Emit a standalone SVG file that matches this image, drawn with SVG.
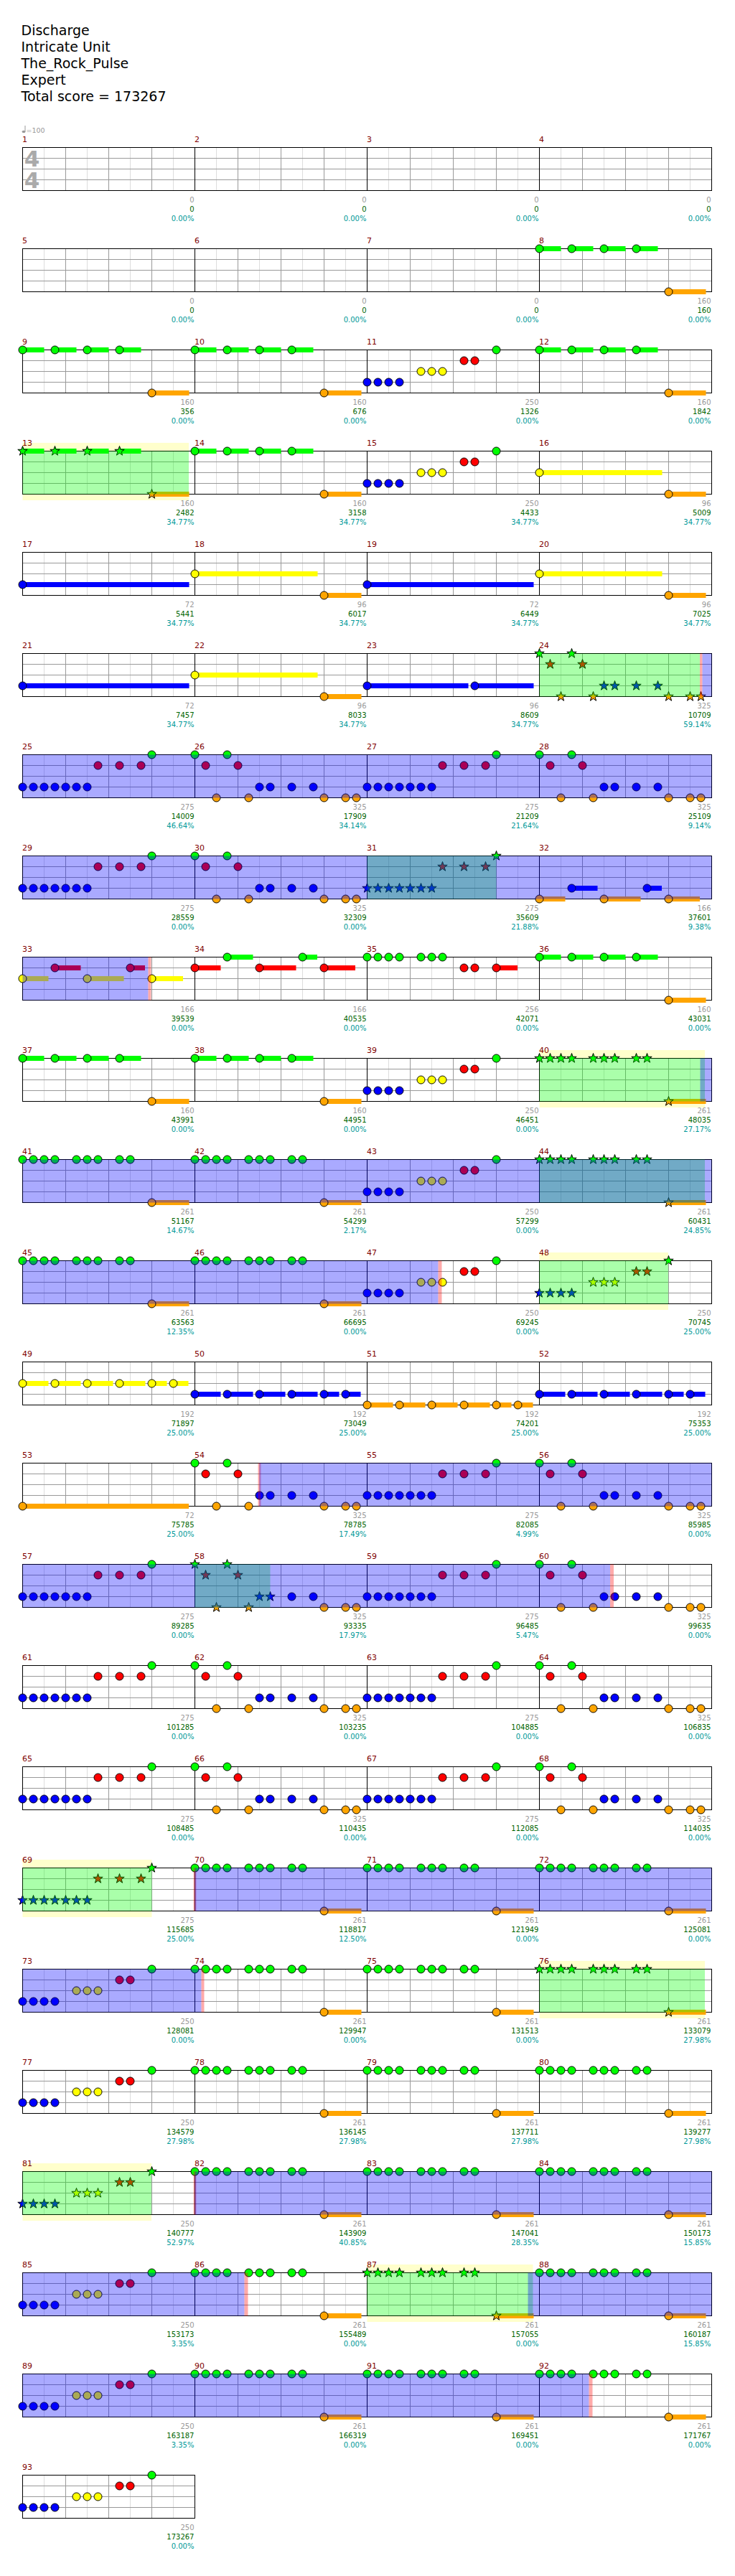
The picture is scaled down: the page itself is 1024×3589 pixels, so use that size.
<svg xmlns="http://www.w3.org/2000/svg" width="1024" height="3589" viewBox="0 0 1024 3589">
<style>
.n{font:11px "DejaVu Sans",sans-serif;fill:#800000}
.c,.s,.p{font:10px "DejaVu Sans",sans-serif;text-anchor:end}
.c{fill:#999}.s{fill:#006400}.p{fill:#009999}
.h{font:19px "DejaVu Sans",sans-serif;fill:#000}
.bl{fill:#00f;fill-opacity:.333}
.gr{fill:#0f0;fill-opacity:.333}
.yl{fill:#ffffcc}
.pk{fill:#f00;fill-opacity:.333}
</style>
<defs>
<g id="M">
<rect width="240" height="60" fill="#fff"/>
<path d="M30,0V60M90,0V60M150,0V60M210,0V60" stroke="#ddd"/>
<path d="M60,0V60M120,0V60M180,0V60M0,15H240M0,30H240M0,45H240" stroke="#999"/>
<rect width="240" height="60" fill="none" stroke="#000"/>
</g>
<g id="R"><use href="#M"/><use href="#M" x="240"/><use href="#M" x="480"/><use href="#M" x="720"/></g>
<circle id="g" r="5.5" fill="#0f0" stroke="#000"/>
<circle id="r" cy="15" r="5.5" fill="#f00" stroke="#000"/>
<circle id="y" cy="30" r="5.5" fill="#ff0" stroke="#000"/>
<circle id="b" cy="45" r="5.5" fill="#00f" stroke="#000"/>
<circle id="o" cy="60" r="5.5" fill="#ffa500" stroke="#000"/>
<path id="st" d="M0,-7L1.6,-2.3L6.7,-2.2L2.7,.9L4.1,5.7L0,2.8L-4.1,5.7L-2.7,.9L-6.7,-2.2L-1.6,-2.3Z" stroke="#000"/>
<use id="Sg" href="#st" fill="#0f0"/>
<use id="Sr" href="#st" y="15" fill="#f00"/>
<use id="Sy" href="#st" y="30" fill="#ff0"/>
<use id="Sb" href="#st" y="45" fill="#00f"/>
<use id="So" href="#st" y="60" fill="#ffa500"/>
<path id="gs" d="M0,-3.5h30v7h-30zM45,-3.5h30v7h-30zM90,-3.5h30v7h-30zM135,-3.5h30v7h-30z" fill="#0f0"/>
<path id="os" d="M180,56.5h52v7h-52z" fill="#ffa500"/>
<g id="P1"><use href="#gs"/><use href="#os"/><use href="#g"/><use href="#g" x="45"/><use href="#g" x="90"/><use href="#g" x="135"/><use href="#o" x="180"/></g>
<g id="S1"><use href="#gs"/><use href="#os"/><use href="#Sg"/><use href="#Sg" x="45"/><use href="#Sg" x="90"/><use href="#Sg" x="135"/><use href="#So" x="180"/></g>
<g id="P2"><use href="#b"/><use href="#b" x="15"/><use href="#b" x="30"/><use href="#b" x="45"/><use href="#y" x="75"/><use href="#y" x="90"/><use href="#y" x="105"/><use href="#r" x="135"/><use href="#r" x="150"/><use href="#g" x="180"/></g>
<g id="S2"><use href="#Sb"/><use href="#Sb" x="15"/><use href="#Sb" x="30"/><use href="#Sb" x="45"/><use href="#Sy" x="75"/><use href="#Sy" x="90"/><use href="#Sy" x="105"/><use href="#Sr" x="135"/><use href="#Sr" x="150"/><use href="#Sg" x="180"/></g>
<g id="P3"><use href="#b"/><use href="#b" x="15"/><use href="#b" x="30"/><use href="#b" x="45"/><use href="#b" x="60"/><use href="#b" x="75"/><use href="#b" x="90"/><use href="#r" x="105"/><use href="#r" x="135"/><use href="#r" x="165"/><use href="#g" x="180"/></g>
<g id="S3"><use href="#Sb"/><use href="#Sb" x="15"/><use href="#Sb" x="30"/><use href="#Sb" x="45"/><use href="#Sb" x="60"/><use href="#Sb" x="75"/><use href="#Sb" x="90"/><use href="#Sr" x="105"/><use href="#Sr" x="135"/><use href="#Sr" x="165"/><use href="#Sg" x="180"/></g>
<g id="P4"><use href="#g"/><use href="#r" x="15"/><use href="#o" x="30"/><use href="#g" x="45"/><use href="#r" x="60"/><use href="#o" x="75"/><use href="#b" x="90"/><use href="#b" x="105"/><use href="#b" x="135"/><use href="#b" x="165"/><use href="#o" x="180"/><use href="#o" x="210"/><use href="#o" x="225"/></g>
<g id="S4"><use href="#Sg"/><use href="#Sr" x="15"/><use href="#So" x="30"/><use href="#Sg" x="45"/><use href="#Sr" x="60"/><use href="#So" x="75"/><use href="#Sb" x="90"/><use href="#Sb" x="105"/><use href="#Sb" x="135"/><use href="#Sb" x="165"/><use href="#So" x="180"/><use href="#So" x="210"/><use href="#So" x="225"/></g>
<g id="S4h"><use href="#Sg"/><use href="#Sr" x="15"/><use href="#So" x="30"/><use href="#Sg" x="45"/><use href="#Sr" x="60"/><use href="#So" x="75"/><use href="#Sb" x="90"/><use href="#Sb" x="105"/><use href="#b" x="135"/><use href="#b" x="165"/><use href="#o" x="180"/><use href="#o" x="210"/><use href="#o" x="225"/></g>
<g id="P5"><use href="#os"/><use href="#g"/><use href="#g" x="15"/><use href="#g" x="30"/><use href="#g" x="45"/><use href="#g" x="75"/><use href="#g" x="90"/><use href="#g" x="105"/><use href="#g" x="135"/><use href="#g" x="150"/><use href="#o" x="180"/></g>
<g id="S5"><use href="#os"/><use href="#Sg"/><use href="#Sg" x="15"/><use href="#Sg" x="30"/><use href="#Sg" x="45"/><use href="#Sg" x="75"/><use href="#Sg" x="90"/><use href="#Sg" x="105"/><use href="#Sg" x="135"/><use href="#Sg" x="150"/><use href="#So" x="180"/></g>
<g id="P6"><path d="M0,26.5h171v7h-171z" fill="#ff0"/><use href="#os"/><use href="#y"/><use href="#o" x="180"/></g>
<g id="P7"><path d="M0,41.5h232v7h-232z" fill="#00f"/><use href="#b"/></g>
<g id="Q"><path d="M0,-3.5h36v7h-36zM45,-3.5h36v7h-36zM90,-3.5h36v7h-36zM135,-3.5h36v7h-36zM180,-3.5h21v7h-21zM210,-3.5h21v7h-21z"/><g stroke="#000"><circle r="5.5"/><circle cx="45" r="5.5"/><circle cx="90" r="5.5"/><circle cx="135" r="5.5"/><circle cx="180" r="5.5"/><circle cx="210" r="5.5"/></g></g>
</defs>
<rect width="1024" height="3589" fill="#fff"/>
<g id="header">
<text class="h" x="29.5" y="49">Discharge</text>
<text class="h" x="29.5" y="72">Intricate Unit</text>
<text class="h" x="29.5" y="95">The_Rock_Pulse</text>
<text class="h" x="29.5" y="118">Expert</text>
<text class="h" x="29.5" y="141">Total score = 173267</text>
<ellipse cx="33" cy="183.5" rx="2.4" ry="1.8" fill="#999"/>
<path d="M35,183.5V175" stroke="#999"/>
<text x="36.5" y="184.5" style="font:9.5px 'DejaVu Sans',sans-serif;fill:#999">=100</text>
</g>

<g id="row1" transform="translate(31.5,205.5)">
<use href="#R"/>
<text x="13" y="26.5" text-anchor="middle" style="font:bold 31px 'DejaVu Sans',sans-serif;fill:#aaa">4</text>
<text x="13" y="56.5" text-anchor="middle" style="font:bold 31px 'DejaVu Sans',sans-serif;fill:#aaa">4</text>
<text class="n" x="-.5" y="-8">1</text><text class="n" x="239.5" y="-8">2</text><text class="n" x="479.5" y="-8">3</text><text class="n" x="719.5" y="-8">4</text>
<text class="c" x="239" y="76">0</text><text class="s" x="239" y="89.5">0</text><text class="p" x="239" y="102">0.00%</text>
<text class="c" x="479" y="76">0</text><text class="s" x="479" y="89.5">0</text><text class="p" x="479" y="102">0.00%</text>
<text class="c" x="719" y="76">0</text><text class="s" x="719" y="89.5">0</text><text class="p" x="719" y="102">0.00%</text>
<text class="c" x="959" y="76">0</text><text class="s" x="959" y="89.5">0</text><text class="p" x="959" y="102">0.00%</text>
</g>

<g id="row2" transform="translate(31.5,346.5)">
<use href="#R"/>
<use href="#P1" x="720"/>
<text class="n" x="-.5" y="-8">5</text><text class="n" x="239.5" y="-8">6</text><text class="n" x="479.5" y="-8">7</text><text class="n" x="719.5" y="-8">8</text>
<text class="c" x="239" y="76">0</text><text class="s" x="239" y="89.5">0</text><text class="p" x="239" y="102">0.00%</text>
<text class="c" x="479" y="76">0</text><text class="s" x="479" y="89.5">0</text><text class="p" x="479" y="102">0.00%</text>
<text class="c" x="719" y="76">0</text><text class="s" x="719" y="89.5">0</text><text class="p" x="719" y="102">0.00%</text>
<text class="c" x="959" y="76">160</text><text class="s" x="959" y="89.5">160</text><text class="p" x="959" y="102">0.00%</text>
</g>

<g id="row3" transform="translate(31.5,487.5)">
<use href="#R"/>
<use href="#P1"/><use href="#P1" x="240"/><use href="#P2" x="480"/><use href="#P1" x="720"/>
<text class="n" x="-.5" y="-8">9</text><text class="n" x="239.5" y="-8">10</text><text class="n" x="479.5" y="-8">11</text><text class="n" x="719.5" y="-8">12</text>
<text class="c" x="239" y="76">160</text><text class="s" x="239" y="89.5">356</text><text class="p" x="239" y="102">0.00%</text>
<text class="c" x="479" y="76">160</text><text class="s" x="479" y="89.5">676</text><text class="p" x="479" y="102">0.00%</text>
<text class="c" x="719" y="76">250</text><text class="s" x="719" y="89.5">1326</text><text class="p" x="719" y="102">0.00%</text>
<text class="c" x="959" y="76">160</text><text class="s" x="959" y="89.5">1842</text><text class="p" x="959" y="102">0.00%</text>
</g>

<g id="row4" transform="translate(31.5,628.5)">
<rect class="yl" x="0" y="-11.5" width="231.5" height="80"/>
<use href="#R"/>
<use href="#S1"/><use href="#P1" x="240"/><use href="#P2" x="480"/><use href="#P6" x="720"/>
<rect class="gr" x="0" y="0" width="231.5" height="60"/>
<text class="n" x="-.5" y="-8">13</text><text class="n" x="239.5" y="-8">14</text><text class="n" x="479.5" y="-8">15</text><text class="n" x="719.5" y="-8">16</text>
<text class="c" x="239" y="76">160</text><text class="s" x="239" y="89.5">2482</text><text class="p" x="239" y="102">34.77%</text>
<text class="c" x="479" y="76">160</text><text class="s" x="479" y="89.5">3158</text><text class="p" x="479" y="102">34.77%</text>
<text class="c" x="719" y="76">250</text><text class="s" x="719" y="89.5">4433</text><text class="p" x="719" y="102">34.77%</text>
<text class="c" x="959" y="76">96</text><text class="s" x="959" y="89.5">5009</text><text class="p" x="959" y="102">34.77%</text>
</g>

<g id="row5" transform="translate(31.5,769.5)">
<use href="#R"/>
<use href="#P7"/><use href="#P6" x="240"/><use href="#P7" x="480"/><use href="#P6" x="720"/>
<text class="n" x="-.5" y="-8">17</text><text class="n" x="239.5" y="-8">18</text><text class="n" x="479.5" y="-8">19</text><text class="n" x="719.5" y="-8">20</text>
<text class="c" x="239" y="76">72</text><text class="s" x="239" y="89.5">5441</text><text class="p" x="239" y="102">34.77%</text>
<text class="c" x="479" y="76">96</text><text class="s" x="479" y="89.5">6017</text><text class="p" x="479" y="102">34.77%</text>
<text class="c" x="719" y="76">72</text><text class="s" x="719" y="89.5">6449</text><text class="p" x="719" y="102">34.77%</text>
<text class="c" x="959" y="76">96</text><text class="s" x="959" y="89.5">7025</text><text class="p" x="959" y="102">34.77%</text>
</g>

<g id="row6" transform="translate(31.5,910.5)">
<use href="#R"/>
<use href="#P7"/><use href="#P6" x="240"/>
<path d="M480,41.5h141v7h-141zM630,41.5h82v7h-82z" fill="#00f"/><use href="#b" x="480"/><use href="#b" x="630"/>
<use href="#S4" x="720"/>
<rect class="gr" x="720" y="0" width="223.5" height="60"/>
<rect class="pk" x="943.5" y="0" width="3.5" height="60"/>
<rect class="bl" x="947" y="0" width="13" height="60"/>
<text class="n" x="-.5" y="-8">21</text><text class="n" x="239.5" y="-8">22</text><text class="n" x="479.5" y="-8">23</text><text class="n" x="719.5" y="-8">24</text>
<text class="c" x="239" y="76">72</text><text class="s" x="239" y="89.5">7457</text><text class="p" x="239" y="102">34.77%</text>
<text class="c" x="479" y="76">96</text><text class="s" x="479" y="89.5">8033</text><text class="p" x="479" y="102">34.77%</text>
<text class="c" x="719" y="76">96</text><text class="s" x="719" y="89.5">8609</text><text class="p" x="719" y="102">34.77%</text>
<text class="c" x="959" y="76">325</text><text class="s" x="959" y="89.5">10709</text><text class="p" x="959" y="102">59.14%</text>
</g>

<g id="row7" transform="translate(31.5,1051.5)">
<use href="#R"/>
<use href="#P3"/><use href="#P4" x="240"/><use href="#P3" x="480"/><use href="#P4" x="720"/>
<rect class="bl" x="0" y="0" width="960" height="60"/>
<text class="n" x="-.5" y="-8">25</text><text class="n" x="239.5" y="-8">26</text><text class="n" x="479.5" y="-8">27</text><text class="n" x="719.5" y="-8">28</text>
<text class="c" x="239" y="76">275</text><text class="s" x="239" y="89.5">14009</text><text class="p" x="239" y="102">46.64%</text>
<text class="c" x="479" y="76">325</text><text class="s" x="479" y="89.5">17909</text><text class="p" x="479" y="102">34.14%</text>
<text class="c" x="719" y="76">275</text><text class="s" x="719" y="89.5">21209</text><text class="p" x="719" y="102">21.64%</text>
<text class="c" x="959" y="76">325</text><text class="s" x="959" y="89.5">25109</text><text class="p" x="959" y="102">9.14%</text>
</g>

<g id="row8" transform="translate(31.5,1192.5)">
<use href="#R"/>
<use href="#P3"/><use href="#P4" x="240"/><use href="#S3" x="480"/>
<path d="M720,56.5h36v7h-36zM810,56.5h51v7h-51zM900,56.5h43.5v7h-43.5z" fill="#ffa500"/>
<path d="M765,41.5h36v7h-36zM870,41.5h20.5v7h-20.5z" fill="#00f"/>
<use href="#o" x="720"/><use href="#b" x="765"/><use href="#o" x="810"/><use href="#b" x="870"/><use href="#o" x="900"/>
<rect class="gr" x="480" y="0" width="180" height="60"/>
<rect class="bl" x="0" y="0" width="960" height="60"/>
<text class="n" x="-.5" y="-8">29</text><text class="n" x="239.5" y="-8">30</text><text class="n" x="479.5" y="-8">31</text><text class="n" x="719.5" y="-8">32</text>
<text class="c" x="239" y="76">275</text><text class="s" x="239" y="89.5">28559</text><text class="p" x="239" y="102">0.00%</text>
<text class="c" x="479" y="76">325</text><text class="s" x="479" y="89.5">32309</text><text class="p" x="479" y="102">0.00%</text>
<text class="c" x="719" y="76">275</text><text class="s" x="719" y="89.5">35609</text><text class="p" x="719" y="102">21.88%</text>
<text class="c" x="959" y="76">166</text><text class="s" x="959" y="89.5">37601</text><text class="p" x="959" y="102">9.38%</text>
</g>

<g id="row9" transform="translate(31.5,1333.5)">
<use href="#R"/>
<path d="M0,26.5h36v7h-36zM90,26.5h51v7h-51zM180,26.5h43.5v7h-43.5z" fill="#ff0"/>
<path d="M45,11.5h36v7h-36zM150,11.5h20.5v7h-20.5z" fill="#f00"/>
<use href="#y"/><use href="#r" x="45"/><use href="#y" x="90"/><use href="#r" x="150"/><use href="#y" x="180"/>
<path d="M240,11.5h36v7h-36zM330,11.5h51v7h-51zM420,11.5h43.5v7h-43.5zM660,11.5h29.5v7h-29.5z" fill="#f00"/>
<path d="M285,-3.5h36v7h-36zM390,-3.5h20.5v7h-20.5z" fill="#0f0"/>
<use href="#r" x="240"/><use href="#g" x="285"/><use href="#r" x="330"/><use href="#g" x="390"/><use href="#r" x="420"/>
<use href="#g" x="480"/><use href="#g" x="495"/><use href="#g" x="510"/><use href="#g" x="525"/><use href="#g" x="555"/><use href="#g" x="570"/><use href="#g" x="585"/><use href="#r" x="615"/><use href="#r" x="630"/><use href="#r" x="660"/>
<use href="#P1" x="720"/>
<rect class="bl" x="0" y="0" width="175" height="60"/>
<rect class="pk" x="175" y="0" width="4" height="60"/>
<text class="n" x="-.5" y="-8">33</text><text class="n" x="239.5" y="-8">34</text><text class="n" x="479.5" y="-8">35</text><text class="n" x="719.5" y="-8">36</text>
<text class="c" x="239" y="76">166</text><text class="s" x="239" y="89.5">39539</text><text class="p" x="239" y="102">0.00%</text>
<text class="c" x="479" y="76">166</text><text class="s" x="479" y="89.5">40535</text><text class="p" x="479" y="102">0.00%</text>
<text class="c" x="719" y="76">256</text><text class="s" x="719" y="89.5">42071</text><text class="p" x="719" y="102">0.00%</text>
<text class="c" x="959" y="76">160</text><text class="s" x="959" y="89.5">43031</text><text class="p" x="959" y="102">0.00%</text>
</g>

<g id="row10" transform="translate(31.5,1474.5)">
<rect class="yl" x="720" y="-11.5" width="230.5" height="80"/>
<use href="#R"/>
<use href="#P1"/><use href="#P1" x="240"/><use href="#P2" x="480"/><use href="#S5" x="720"/>
<rect class="gr" x="720" y="0" width="230.5" height="60"/>
<rect class="bl" x="944" y="0" width="16" height="60"/>
<text class="n" x="-.5" y="-8">37</text><text class="n" x="239.5" y="-8">38</text><text class="n" x="479.5" y="-8">39</text><text class="n" x="719.5" y="-8">40</text>
<text class="c" x="239" y="76">160</text><text class="s" x="239" y="89.5">43991</text><text class="p" x="239" y="102">0.00%</text>
<text class="c" x="479" y="76">160</text><text class="s" x="479" y="89.5">44951</text><text class="p" x="479" y="102">0.00%</text>
<text class="c" x="719" y="76">250</text><text class="s" x="719" y="89.5">46451</text><text class="p" x="719" y="102">0.00%</text>
<text class="c" x="959" y="76">261</text><text class="s" x="959" y="89.5">48035</text><text class="p" x="959" y="102">27.17%</text>
</g>

<g id="row11" transform="translate(31.5,1615.5)">
<use href="#R"/>
<use href="#P5"/><use href="#P5" x="240"/><use href="#P2" x="480"/><use href="#S5" x="720"/>
<rect class="gr" x="720" y="0" width="230.5" height="60"/>
<rect class="bl" x="0" y="0" width="960" height="60"/>
<text class="n" x="-.5" y="-8">41</text><text class="n" x="239.5" y="-8">42</text><text class="n" x="479.5" y="-8">43</text><text class="n" x="719.5" y="-8">44</text>
<text class="c" x="239" y="76">261</text><text class="s" x="239" y="89.5">51167</text><text class="p" x="239" y="102">14.67%</text>
<text class="c" x="479" y="76">261</text><text class="s" x="479" y="89.5">54299</text><text class="p" x="479" y="102">2.17%</text>
<text class="c" x="719" y="76">250</text><text class="s" x="719" y="89.5">57299</text><text class="p" x="719" y="102">0.00%</text>
<text class="c" x="959" y="76">261</text><text class="s" x="959" y="89.5">60431</text><text class="p" x="959" y="102">24.85%</text>
</g>

<g id="row12" transform="translate(31.5,1756.5)">
<rect class="yl" x="720" y="-11.5" width="179.5" height="80"/>
<use href="#R"/>
<use href="#P5"/><use href="#P5" x="240"/><use href="#P2" x="480"/><use href="#S2" x="720"/>
<rect class="gr" x="720" y="0" width="179.5" height="60"/>
<rect class="bl" x="0" y="0" width="579" height="60"/>
<rect class="pk" x="579" y="0" width="5" height="60"/>
<text class="n" x="-.5" y="-8">45</text><text class="n" x="239.5" y="-8">46</text><text class="n" x="479.5" y="-8">47</text><text class="n" x="719.5" y="-8">48</text>
<text class="c" x="239" y="76">261</text><text class="s" x="239" y="89.5">63563</text><text class="p" x="239" y="102">12.35%</text>
<text class="c" x="479" y="76">261</text><text class="s" x="479" y="89.5">66695</text><text class="p" x="479" y="102">0.00%</text>
<text class="c" x="719" y="76">250</text><text class="s" x="719" y="89.5">69245</text><text class="p" x="719" y="102">0.00%</text>
<text class="c" x="959" y="76">250</text><text class="s" x="959" y="89.5">70745</text><text class="p" x="959" y="102">25.00%</text>
</g>

<g id="row13" transform="translate(31.5,1897.5)">
<use href="#R"/>
<use href="#Q" y="30" fill="#ff0"/><use href="#Q" x="240" y="45" fill="#00f"/><use href="#Q" x="480" y="60" fill="#ffa500"/><use href="#Q" x="720" y="45" fill="#00f"/>
<text class="n" x="-.5" y="-8">49</text><text class="n" x="239.5" y="-8">50</text><text class="n" x="479.5" y="-8">51</text><text class="n" x="719.5" y="-8">52</text>
<text class="c" x="239" y="76">192</text><text class="s" x="239" y="89.5">71897</text><text class="p" x="239" y="102">25.00%</text>
<text class="c" x="479" y="76">192</text><text class="s" x="479" y="89.5">73049</text><text class="p" x="479" y="102">25.00%</text>
<text class="c" x="719" y="76">192</text><text class="s" x="719" y="89.5">74201</text><text class="p" x="719" y="102">25.00%</text>
<text class="c" x="959" y="76">192</text><text class="s" x="959" y="89.5">75353</text><text class="p" x="959" y="102">25.00%</text>
</g>

<g id="row14" transform="translate(31.5,2038.5)">
<use href="#R"/>
<path d="M0,56.5h231.5v7h-231.5z" fill="#ffa500"/><use href="#o"/>
<use href="#P4" x="240"/><use href="#P3" x="480"/><use href="#P4" x="720"/>
<rect class="pk" x="328" y="0" width="4" height="60"/>
<rect class="bl" x="330" y="0" width="630" height="60"/>
<text class="n" x="-.5" y="-8">53</text><text class="n" x="239.5" y="-8">54</text><text class="n" x="479.5" y="-8">55</text><text class="n" x="719.5" y="-8">56</text>
<text class="c" x="239" y="76">72</text><text class="s" x="239" y="89.5">75785</text><text class="p" x="239" y="102">25.00%</text>
<text class="c" x="479" y="76">325</text><text class="s" x="479" y="89.5">78785</text><text class="p" x="479" y="102">17.49%</text>
<text class="c" x="719" y="76">275</text><text class="s" x="719" y="89.5">82085</text><text class="p" x="719" y="102">4.99%</text>
<text class="c" x="959" y="76">325</text><text class="s" x="959" y="89.5">85985</text><text class="p" x="959" y="102">0.00%</text>
</g>

<g id="row15" transform="translate(31.5,2179.5)">
<use href="#R"/>
<use href="#P3"/><use href="#S4h" x="240"/><use href="#P3" x="480"/><use href="#P4" x="720"/>
<rect class="gr" x="240" y="0" width="105" height="60"/>
<rect class="bl" x="0" y="0" width="818.5" height="60"/>
<rect class="pk" x="818.5" y="0" width="5" height="60"/>
<text class="n" x="-.5" y="-8">57</text><text class="n" x="239.5" y="-8">58</text><text class="n" x="479.5" y="-8">59</text><text class="n" x="719.5" y="-8">60</text>
<text class="c" x="239" y="76">275</text><text class="s" x="239" y="89.5">89285</text><text class="p" x="239" y="102">0.00%</text>
<text class="c" x="479" y="76">325</text><text class="s" x="479" y="89.5">93335</text><text class="p" x="479" y="102">17.97%</text>
<text class="c" x="719" y="76">275</text><text class="s" x="719" y="89.5">96485</text><text class="p" x="719" y="102">5.47%</text>
<text class="c" x="959" y="76">325</text><text class="s" x="959" y="89.5">99635</text><text class="p" x="959" y="102">0.00%</text>
</g>

<g id="row16" transform="translate(31.5,2320.5)">
<use href="#R"/>
<use href="#P3"/><use href="#P4" x="240"/><use href="#P3" x="480"/><use href="#P4" x="720"/>
<text class="n" x="-.5" y="-8">61</text><text class="n" x="239.5" y="-8">62</text><text class="n" x="479.5" y="-8">63</text><text class="n" x="719.5" y="-8">64</text>
<text class="c" x="239" y="76">275</text><text class="s" x="239" y="89.5">101285</text><text class="p" x="239" y="102">0.00%</text>
<text class="c" x="479" y="76">325</text><text class="s" x="479" y="89.5">103235</text><text class="p" x="479" y="102">0.00%</text>
<text class="c" x="719" y="76">275</text><text class="s" x="719" y="89.5">104885</text><text class="p" x="719" y="102">0.00%</text>
<text class="c" x="959" y="76">325</text><text class="s" x="959" y="89.5">106835</text><text class="p" x="959" y="102">0.00%</text>
</g>

<g id="row17" transform="translate(31.5,2461.5)">
<use href="#R"/>
<use href="#P3"/><use href="#P4" x="240"/><use href="#P3" x="480"/><use href="#P4" x="720"/>
<text class="n" x="-.5" y="-8">65</text><text class="n" x="239.5" y="-8">66</text><text class="n" x="479.5" y="-8">67</text><text class="n" x="719.5" y="-8">68</text>
<text class="c" x="239" y="76">275</text><text class="s" x="239" y="89.5">108485</text><text class="p" x="239" y="102">0.00%</text>
<text class="c" x="479" y="76">325</text><text class="s" x="479" y="89.5">110435</text><text class="p" x="479" y="102">0.00%</text>
<text class="c" x="719" y="76">275</text><text class="s" x="719" y="89.5">112085</text><text class="p" x="719" y="102">0.00%</text>
<text class="c" x="959" y="76">325</text><text class="s" x="959" y="89.5">114035</text><text class="p" x="959" y="102">0.00%</text>
</g>

<g id="row18" transform="translate(31.5,2602.5)">
<rect class="yl" x="0" y="-11.5" width="180" height="80"/>
<use href="#R"/>
<use href="#S3"/><use href="#P5" x="240"/><use href="#P5" x="480"/><use href="#P5" x="720"/>
<rect class="gr" x="0" y="0" width="180" height="60"/>
<rect class="pk" x="238" y="0" width="4" height="60"/>
<rect class="bl" x="240" y="0" width="720" height="60"/>
<text class="n" x="-.5" y="-8">69</text><text class="n" x="239.5" y="-8">70</text><text class="n" x="479.5" y="-8">71</text><text class="n" x="719.5" y="-8">72</text>
<text class="c" x="239" y="76">275</text><text class="s" x="239" y="89.5">115685</text><text class="p" x="239" y="102">25.00%</text>
<text class="c" x="479" y="76">261</text><text class="s" x="479" y="89.5">118817</text><text class="p" x="479" y="102">12.50%</text>
<text class="c" x="719" y="76">261</text><text class="s" x="719" y="89.5">121949</text><text class="p" x="719" y="102">0.00%</text>
<text class="c" x="959" y="76">261</text><text class="s" x="959" y="89.5">125081</text><text class="p" x="959" y="102">0.00%</text>
</g>

<g id="row19" transform="translate(31.5,2743.5)">
<rect class="yl" x="720" y="-11.5" width="230.5" height="80"/>
<use href="#R"/>
<use href="#P2"/><use href="#P5" x="240"/><use href="#P5" x="480"/><use href="#S5" x="720"/>
<rect class="bl" x="0" y="0" width="249" height="60"/>
<rect class="pk" x="249" y="0" width="4" height="60"/>
<rect class="gr" x="720" y="0" width="230.5" height="60"/>
<text class="n" x="-.5" y="-8">73</text><text class="n" x="239.5" y="-8">74</text><text class="n" x="479.5" y="-8">75</text><text class="n" x="719.5" y="-8">76</text>
<text class="c" x="239" y="76">250</text><text class="s" x="239" y="89.5">128081</text><text class="p" x="239" y="102">0.00%</text>
<text class="c" x="479" y="76">261</text><text class="s" x="479" y="89.5">129947</text><text class="p" x="479" y="102">0.00%</text>
<text class="c" x="719" y="76">261</text><text class="s" x="719" y="89.5">131513</text><text class="p" x="719" y="102">0.00%</text>
<text class="c" x="959" y="76">261</text><text class="s" x="959" y="89.5">133079</text><text class="p" x="959" y="102">27.98%</text>
</g>

<g id="row20" transform="translate(31.5,2884.5)">
<use href="#R"/>
<use href="#P2"/><use href="#P5" x="240"/><use href="#P5" x="480"/><use href="#P5" x="720"/>
<text class="n" x="-.5" y="-8">77</text><text class="n" x="239.5" y="-8">78</text><text class="n" x="479.5" y="-8">79</text><text class="n" x="719.5" y="-8">80</text>
<text class="c" x="239" y="76">250</text><text class="s" x="239" y="89.5">134579</text><text class="p" x="239" y="102">27.98%</text>
<text class="c" x="479" y="76">261</text><text class="s" x="479" y="89.5">136145</text><text class="p" x="479" y="102">27.98%</text>
<text class="c" x="719" y="76">261</text><text class="s" x="719" y="89.5">137711</text><text class="p" x="719" y="102">27.98%</text>
<text class="c" x="959" y="76">261</text><text class="s" x="959" y="89.5">139277</text><text class="p" x="959" y="102">27.98%</text>
</g>

<g id="row21" transform="translate(31.5,3025.5)">
<rect class="yl" x="0" y="-11.5" width="179.5" height="80"/>
<use href="#R"/>
<use href="#S2"/><use href="#P5" x="240"/><use href="#P5" x="480"/><use href="#P5" x="720"/>
<rect class="gr" x="0" y="0" width="179.5" height="60"/>
<rect class="pk" x="238" y="0" width="4" height="60"/>
<rect class="bl" x="240" y="0" width="720" height="60"/>
<text class="n" x="-.5" y="-8">81</text><text class="n" x="239.5" y="-8">82</text><text class="n" x="479.5" y="-8">83</text><text class="n" x="719.5" y="-8">84</text>
<text class="c" x="239" y="76">250</text><text class="s" x="239" y="89.5">140777</text><text class="p" x="239" y="102">52.97%</text>
<text class="c" x="479" y="76">261</text><text class="s" x="479" y="89.5">143909</text><text class="p" x="479" y="102">40.85%</text>
<text class="c" x="719" y="76">261</text><text class="s" x="719" y="89.5">147041</text><text class="p" x="719" y="102">28.35%</text>
<text class="c" x="959" y="76">261</text><text class="s" x="959" y="89.5">150173</text><text class="p" x="959" y="102">15.85%</text>
</g>

<g id="row22" transform="translate(31.5,3166.5)">
<rect class="yl" x="480" y="-11.5" width="231" height="80"/>
<use href="#R"/>
<use href="#P2"/><use href="#P5" x="240"/><use href="#S5" x="480"/><use href="#P5" x="720"/>
<rect class="bl" x="0" y="0" width="309" height="60"/>
<rect class="pk" x="309" y="0" width="5" height="60"/>
<rect class="gr" x="480" y="0" width="231" height="60"/>
<rect class="bl" x="704" y="0" width="256" height="60"/>
<text class="n" x="-.5" y="-8">85</text><text class="n" x="239.5" y="-8">86</text><text class="n" x="479.5" y="-8">87</text><text class="n" x="719.5" y="-8">88</text>
<text class="c" x="239" y="76">250</text><text class="s" x="239" y="89.5">153173</text><text class="p" x="239" y="102">3.35%</text>
<text class="c" x="479" y="76">261</text><text class="s" x="479" y="89.5">155489</text><text class="p" x="479" y="102">0.00%</text>
<text class="c" x="719" y="76">261</text><text class="s" x="719" y="89.5">157055</text><text class="p" x="719" y="102">0.00%</text>
<text class="c" x="959" y="76">261</text><text class="s" x="959" y="89.5">160187</text><text class="p" x="959" y="102">15.85%</text>
</g>

<g id="row23" transform="translate(31.5,3307.5)">
<use href="#R"/>
<use href="#P2"/><use href="#P5" x="240"/><use href="#P5" x="480"/><use href="#P5" x="720"/>
<rect class="bl" x="0" y="0" width="789" height="60"/>
<rect class="pk" x="789" y="0" width="5" height="60"/>
<text class="n" x="-.5" y="-8">89</text><text class="n" x="239.5" y="-8">90</text><text class="n" x="479.5" y="-8">91</text><text class="n" x="719.5" y="-8">92</text>
<text class="c" x="239" y="76">250</text><text class="s" x="239" y="89.5">163187</text><text class="p" x="239" y="102">3.35%</text>
<text class="c" x="479" y="76">261</text><text class="s" x="479" y="89.5">166319</text><text class="p" x="479" y="102">0.00%</text>
<text class="c" x="719" y="76">261</text><text class="s" x="719" y="89.5">169451</text><text class="p" x="719" y="102">0.00%</text>
<text class="c" x="959" y="76">261</text><text class="s" x="959" y="89.5">171767</text><text class="p" x="959" y="102">0.00%</text>
</g>

<g id="row24" transform="translate(31.5,3448.5)">
<use href="#M"/><use href="#P2"/>
<text class="n" x="-.5" y="-8">93</text>
<text class="c" x="239" y="76">250</text><text class="s" x="239" y="89.5">173267</text><text class="p" x="239" y="102">0.00%</text>
</g>
</svg>
